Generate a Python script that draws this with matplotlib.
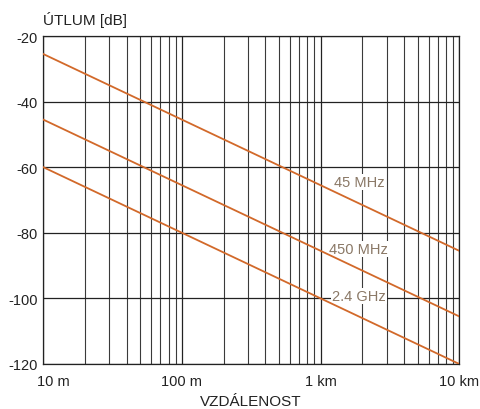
import matplotlib
matplotlib.use("Agg")
import matplotlib.pyplot as plt
import matplotlib.transforms as mtransforms
from matplotlib.ticker import LogLocator, NullFormatter

plt.rcParams['font.family'] = ['Liberation Sans', 'DejaVu Sans']

distance_m = [10, 10000]
loss_45mhz = [-25.5, -85.5]
loss_450mhz = [-45.5, -105.5]
loss_2_4ghz = [-60.0, -120.0]
series_labels = ["45 MHz", "450 MHz", "2.4 GHz"]
label_x = [1888, 1888, 1888]
label_y = [-64.5, -85.0, -99.3]
x_ticks = [10, 100, 1000, 10000]
x_ticklabels = ["10 m", "100 m", "1 km", "10 km"]
y_ticks = [-120, -100, -80, -60, -40, -20]

fig = plt.figure(figsize=(4.81, 4.10), dpi=100)
ax = fig.add_axes([43.3/481, 1-365/410, (459.3-43.3)/481, (365-37)/410])

line_color = '#d2692a'
for vals in (loss_45mhz, loss_450mhz, loss_2_4ghz):
    ax.plot(distance_m, vals, color=line_color, lw=1.3, zorder=3)

ax.set_xscale('log')
ax.set_xlim(10, 10000)
ax.set_ylim(-120, -20)
ax.set_xticks(x_ticks)
ax.set_xticklabels(x_ticklabels)
ax.xaxis.set_minor_locator(LogLocator(base=10, subs=range(2, 10)))
ax.xaxis.set_minor_formatter(NullFormatter())
ax.set_yticks(y_ticks)
ax.set_yticklabels([str(v) for v in y_ticks])

ax.grid(True, which='major', axis='both', color='#222222', lw=0.9, zorder=1)
ax.grid(True, which='minor', axis='x', color='#3a3a3a', lw=0.8, zorder=1)
ax.tick_params(axis='both', which='both', length=0, labelsize=10.5, colors='#222222')
ax.tick_params(axis='x', pad=7)
ax.tick_params(axis='y', pad=4)
for s in ax.spines.values():
    s.set_color('#222222')
    s.set_linewidth(0.9)

# shift first x label right
lbl0 = ax.get_xticklabels()[0]
lbl0.set_transform(lbl0.get_transform() + mtransforms.ScaledTranslation(10/100, 0, fig.dpi_scale_trans))

for lx, ly, txt in zip(label_x, label_y, series_labels):
    ax.text(lx, ly, txt, ha='center', va='center', fontsize=10.5, color='#8a7866',
            bbox=dict(facecolor='white', edgecolor='none', pad=0.5), zorder=2)

fig.text(43/481, 1-20/410, "ÚTLUM [dB]", ha='left', va='center', fontsize=11, color='#222222')
fig.text(251/481, 1-402/410, "VZDÁLENOST", ha='center', va='center', fontsize=11, color='#222222')

fig.savefig("out.png", dpi=100)
